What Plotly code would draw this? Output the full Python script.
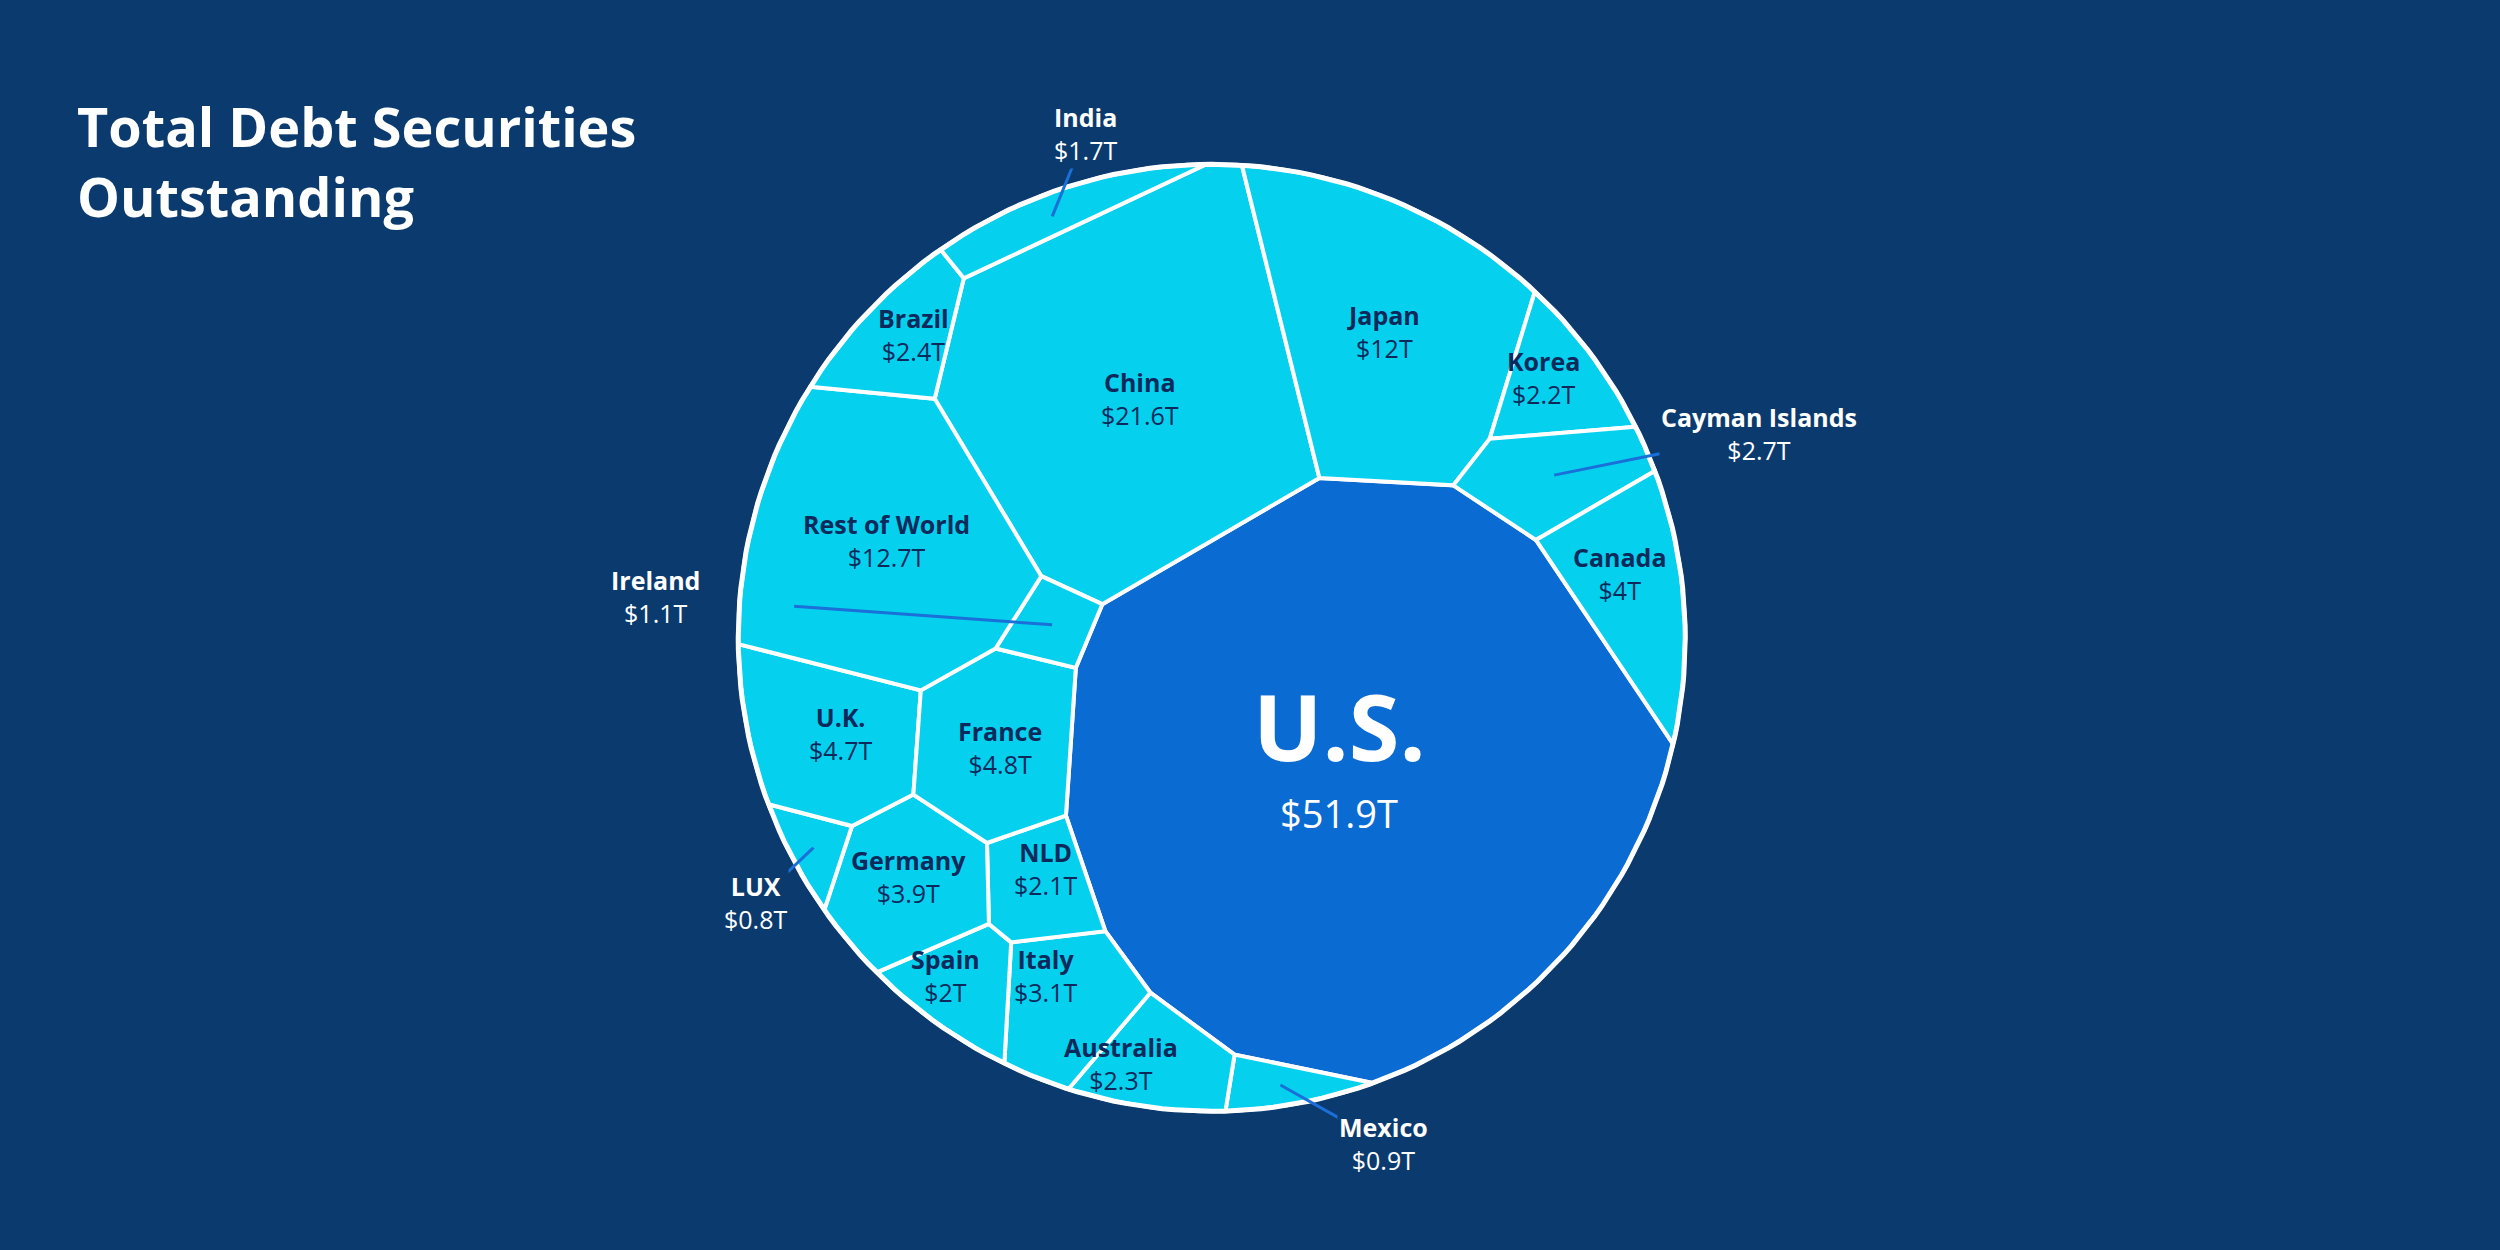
import numpy as np
import plotly.graph_objects as go

names = ["U.S.", "China", "Japan", "Korea", "Cayman Islands", "Canada", "Mexico", "Australia",
         "Italy", "Spain", "NLD", "Germany", "LUX", "U.K.", "France", "Ireland",
         "Rest of World", "Brazil", "India"]
values = [51.9, 21.6, 12, 2.2, 2.7, 4, 0.9, 2.3, 3.1, 2, 2.1, 3.9, 0.8, 4.7, 4.8, 1.1, 12.7, 2.4, 1.7]
value_text = ["$51.9T", "$21.6T", "$12T", "$2.2T", "$2.7T", "$4T", "$0.9T", "$2.3T", "$3.1T", "$2T",
              "$2.1T", "$3.9T", "$0.8T", "$4.7T", "$4.8T", "$1.1T", "$12.7T", "$2.4T", "$1.7T"]
# initial seed guesses (layout, reference pixel space 1568x784)
seed_x = [850, 715, 860, 965, 975, 1015, 815, 703, 655, 593, 655, 570, 500, 527, 625, 625, 556, 568, 660]
seed_y = [480, 250, 210, 240, 290, 370, 682, 665, 612, 615, 545, 550, 530, 460, 470, 402, 340, 210, 135]
# label anchor positions
lab_x = [840, 715, 868, 968, 1103, 1016, 868, 703, 656, 593, 656, 570, 474, 527, 627, 411, 556, 573, 681]
lab_y = [470, 250, 208, 237, 272, 360, 717, 667, 612, 612, 545, 550, 566, 460, 469, 374, 339, 210, 84]
outside = {"Cayman Islands", "Mexico", "LUX", "Ireland", "India"}

CX, CY, R = 760, 400, 297
th = np.linspace(0, 2*np.pi, 240, endpoint=False)
circle = np.c_[CX + R*np.cos(th), CY + R*np.sin(th)]

def clip(poly, a, b):
    out = []
    n = len(poly)
    for i in range(n):
        P, Q = poly[i], poly[(i+1) % n]
        fp, fq = a @ P - b, a @ Q - b
        if fp <= 0: out.append(P)
        if fp * fq < 0:
            t = fp / (fp - fq)
            out.append(P + t*(Q-P))
    return np.array(out) if out else np.zeros((0, 2))

def area_centroid(poly):
    if len(poly) < 3: return 0.0, None
    x, y = poly[:, 0], poly[:, 1]
    x2, y2 = np.roll(x, -1), np.roll(y, -1)
    c = x*y2 - x2*y
    A = c.sum()/2
    if abs(A) < 1e-9: return 0.0, None
    return abs(A), np.array([((x+x2)*c).sum()/(6*A), ((y+y2)*c).sum()/(6*A)])

def cells(P, w):
    res = []
    for i in range(len(P)):
        poly = circle.copy()
        for j in range(len(P)):
            if i == j or len(poly) == 0: continue
            a = 2*(P[j]-P[i])
            b = P[j]@P[j] - P[i]@P[i] - w[j] + w[i]
            poly = clip(poly, a, b)
        res.append(poly)
    return res

P = np.c_[seed_x, seed_y].astype(float)
P0 = P.copy()
vals = np.array(values)
total_area = np.pi*R*R
target = vals/vals.sum()*total_area
w = np.zeros(len(P))
for it in range(200):
    cs = cells(P, w)
    for i, c in enumerate(cs):
        A, cen = area_centroid(c)
        w[i] += 0.6*(target[i]-A)/np.pi
        if cen is not None and it < 120:
            P[i] = 0.8*P[i] + 0.2*(0.5*cen + 0.5*P0[i])
    w -= w.min()
cs = cells(P, w)

BG = "#0B3B6E"
fig = go.Figure()
for i, c in enumerate(cs):
    if len(c) < 3: continue
    xs = list(c[:, 0]) + [c[0, 0]]
    ys = list(c[:, 1]) + [c[0, 1]]
    fig.add_trace(go.Scatter(x=xs, y=ys, fill="toself", mode="lines",
                             fillcolor="#0A6BD3" if names[i] == "U.S." else "#05D0EE",
                             line=dict(color="white", width=4), hoverinfo="text",
                             text=names[i], showlegend=False))
fig.add_trace(go.Scatter(x=list(circle[:, 0]) + [circle[0, 0]], y=list(circle[:, 1]) + [circle[0, 1]],
                         mode="lines", line=dict(color="white", width=5), hoverinfo="skip", showlegend=False))

for i, n in enumerate(names):
    if n in outside:
        A, cen = area_centroid(cs[i])
        if cen is not None:
            dx, dy = cen[0]-lab_x[i], cen[1]-lab_y[i]
            fig.add_trace(go.Scatter(x=[lab_x[i] + dx*0.35, cen[0]], y=[lab_y[i] + dy*0.35, cen[1]],
                                     mode="lines", line=dict(color="#1A6FD8", width=3),
                                     hoverinfo="skip", showlegend=False))
        col = "white"
    else:
        col = "#0B2A5B"
    if n == "U.S.":
        fig.add_annotation(x=lab_x[i], y=455, text="<b>U.S.</b>", showarrow=False,
                           font=dict(size=92, color="white", family="Open Sans"))
        fig.add_annotation(x=lab_x[i], y=510, text=value_text[i], showarrow=False,
                           font=dict(size=38, color="white", family="Open Sans"))
    else:
        txt = f"<b>{n}</b><br>{value_text[i]}"
        fig.add_annotation(x=lab_x[i], y=lab_y[i], text=txt, showarrow=False,
                           font=dict(size=25, color=col, family="Open Sans"),
                           bgcolor=BG if n in outside else None)

fig.add_annotation(x=0.03, y=0.93, xref="paper", yref="paper", xanchor="left", yanchor="top", align="left",
                   text="<b>Total Debt Securities<br>Outstanding</b>", showarrow=False,
                   font=dict(size=54, color="white", family="Open Sans"))
fig.update_xaxes(range=[0, 1568], visible=False)
fig.update_yaxes(range=[784, 0], visible=False)
fig.update_layout(width=2500, height=1250, margin=dict(l=0, r=0, t=0, b=0),
                  paper_bgcolor=BG, plot_bgcolor=BG)
fig.write_html("out.html", config={"displayModeBar": False},
               post_script="document.body.style.margin='0';document.body.style.background='#0B3B6E';")
